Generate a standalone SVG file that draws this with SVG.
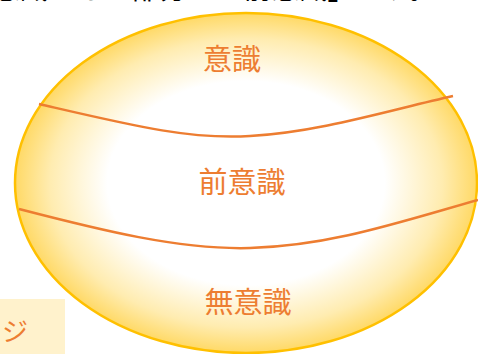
<svg xmlns="http://www.w3.org/2000/svg" width="478" height="354" viewBox="0 0 478 354">
<style>
.lbl{font-family:"Noto Sans CJK JP","Noto Sans",sans-serif;fill:#ED7D31;font-size:29px;text-anchor:middle}
.line{fill:none;stroke:#ED7D31;stroke-width:2.5}
</style>
<defs>
<radialGradient id="g" cx="0.5" cy="0.5" r="0.5">
<stop offset="0" stop-color="#FFFFFF"/>
<stop offset="0.6" stop-color="#FFFFFF"/>
<stop offset="0.85" stop-color="#FFECB0"/>
<stop offset="1" stop-color="#FFD966"/>
</radialGradient>
</defs>
<rect width="478" height="354" fill="#FFFFFF"/>
<text x="-8" y="-1" font-family="Noto Sans CJK JP, sans-serif" font-size="28" fill="#000">意識できる部分が「前意識」です。</text>
<g id="ellipse">
<ellipse cx="246" cy="183" rx="231" ry="170" fill="url(#g)" stroke="#FFC000" stroke-width="2.5"/>
</g>
<g id="connectors">
<path class="line" d="M39,104 C130,125 190,140 250,136 C320,132 390,110 453,96"/>
<path class="line" d="M19,209 C100,230 180,250 250,248 C330,246 400,222 478,200"/>
</g>
<g id="conscious"><text class="lbl" x="232" y="70">意識</text></g>
<g id="preconscious"><text class="lbl" x="242" y="193">前意識</text></g>
<g id="unconscious"><text class="lbl" x="248" y="313">無意識</text></g>
<g id="corner">
<rect x="0" y="299" width="65" height="55" fill="#FFF2CC"/>
<text x="15" y="341" font-family="Noto Sans CJK JP, sans-serif" font-size="26" fill="#ED7D31" text-anchor="middle">ジ</text>
</g>
</svg>
